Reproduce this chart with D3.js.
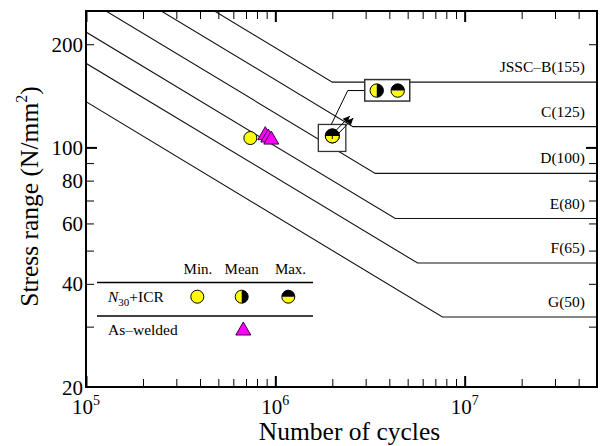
<!DOCTYPE html>
<html><head><meta charset="utf-8">
<script src="https://cdn.jsdelivr.net/npm/d3@7"></script>
<style>
body{margin:0;background:#fff}
svg{display:block}
text{font-family:"Liberation Serif","Times New Roman",Times,serif;fill:#000}
</style>
</head><body>
<svg id="chart" width="602" height="446"></svg>
<script>
// ---------- data ----------
const curveLabels = ["JSSC\u2013B(155)", "C(125)", "D(100)", "E(80)", "F(65)", "G(50)"];
const startCycles = [1e5, 1e5, 1e5, 1e5, 1e5, 1e5];
const startStress = [421, 339, 271, 217, 176, 136];
const kneeCycles  = [2.0e6, 2.57e6, 3.37e6, 4.30e6, 5.64e6, 7.63e6];
const kneeStress  = [155, 115, 84, 62, 46, 32];
const endCycles   = [5e7, 5e7, 5e7, 5e7, 5e7, 5e7];

const minCycles = [7.38e5];          // N30+ICR, Min.
const minStress = [106.5];
const asWeldedCycles = [8.85e5, 9.18e5, 9.52e5];
const asWeldedStress = [109.3, 107.6, 106.1];
const runoutCycles = [2.0e6];        // N30+ICR, Mean & Max. (run-out)
const runoutStress = [108];
const insetCycles = [3.9e6];         // magnified inset anchor
const insetStress = [146.5];

const xMajorTicks = [1e5, 1e6, 1e7];
const xMinorTicks = [2e5,3e5,4e5,5e5,6e5,7e5,8e5,9e5,2e6,3e6,4e6,5e6,6e6,7e6,8e6,9e6,2e7,3e7,4e7];
const xTickLabels = [["10","5"],["10","6"],["10","7"]];
const yMajorTicks = [100];
const yMinorTicks = [20,30,40,50,60,70,80,90,200];
const yTickLabels = [20,40,60,80,100,200];

const legendHeaders = ["Min.", "Mean", "Max."];

// ---------- layout ----------
const svg = d3.select("#chart");
const L = 86, T = 11, R = 597, B = 387;
const x = d3.scaleLog().domain([1e5, 5e7]).range([L, R]);
const y = d3.scaleLog().domain([20, 250]).range([B, T]);
const YEL = "#ffff00", MAG = "#ff00ff";

svg.append("defs").append("clipPath").attr("id","clip")
  .append("rect").attr("x",L).attr("y",T).attr("width",R-L).attr("height",B-T);

// ---------- S-N curves ----------
const line = d3.line().x(d=>x(d[0])).y(d=>y(d[1]));
const gCurves = svg.append("g").attr("clip-path","url(#clip)");
curveLabels.forEach((lab,i)=>{
  gCurves.append("path")
    .attr("d", line([[startCycles[i],startStress[i]],[kneeCycles[i],kneeStress[i]],[endCycles[i],kneeStress[i]]]))
    .attr("fill","none").attr("stroke","#111").attr("stroke-width",1.1);
  svg.append("text").attr("x",585).attr("y",y(kneeStress[i])-10)
    .attr("text-anchor","end").attr("font-size",15.5).text(lab);
});

// ---------- axes ticks ----------
function styleTicks(g, w){
  g.select(".domain").remove();
  g.selectAll(".tick line").attr("stroke","#000").attr("stroke-width",w);
  g.selectAll(".tick text").remove();
}
const axes = [
  [d3.axisLeft(y),   `translate(${L},0)`, yMinorTicks, yMajorTicks],
  [d3.axisRight(y),  `translate(${R},0)`, yMinorTicks, yMajorTicks],
  [d3.axisBottom(x), `translate(0,${B})`, xMinorTicks, xMajorTicks],
  [d3.axisTop(x),    `translate(0,${T})`, xMinorTicks, xMajorTicks]
];
axes.forEach(([ax, tr, minor, major])=>{
  svg.append("g").attr("transform",tr)
    .call(ax.tickValues(minor).tickSizeInner(-8).tickSizeOuter(0).tickFormat(""))
    .call(g=>styleTicks(g,1));
  svg.append("g").attr("transform",tr)
    .call(ax.tickValues(major).tickSizeInner(-11).tickSizeOuter(0).tickFormat(""))
    .call(g=>styleTicks(g,2));
});

// frame
svg.append("rect").attr("x",L).attr("y",T).attr("width",R-L).attr("height",B-T)
  .attr("fill","none").attr("stroke","#000").attr("stroke-width",2);

// tick labels
yTickLabels.forEach(v=>{
  svg.append("text").attr("x",L-3).attr("y",y(v)+7.5)
    .attr("text-anchor","end").attr("font-size",21).text(v);
});
xMajorTicks.forEach((v,i)=>{
  const t = svg.append("text").attr("x",x(v)).attr("y",414)
    .attr("text-anchor","middle").attr("font-size",21);
  t.append("tspan").text(xTickLabels[i][0]);
  t.append("tspan").attr("font-size",14).attr("dy",-9).text(xTickLabels[i][1]);
});

// axis titles
svg.append("text").attr("x",349.5).attr("y",439.5).attr("text-anchor","middle")
  .attr("font-size",25.5).text("Number of cycles");
const yt = svg.append("text").attr("transform","translate(37.5,196.5) rotate(-90)")
  .attr("text-anchor","middle").attr("font-size",25.5);
yt.append("tspan").text("Stress range (N/mm");
yt.append("tspan").attr("font-size",16).attr("dy",-11).text("2");
yt.append("tspan").attr("dy",11).text(")");

// ---------- markers ----------
const arc = d3.arc().innerRadius(0);
function halfCircle(g, cx, cy, r, kind){
  const gg = g.append("g").attr("transform",`translate(${cx},${cy})`);
  let blackA, yelA;
  if(kind==="mean"){ blackA=[0,Math.PI]; yelA=[Math.PI,2*Math.PI]; }
  else { blackA=[-Math.PI/2,Math.PI/2]; yelA=[Math.PI/2,3*Math.PI/2]; }
  gg.append("path").attr("d",arc.outerRadius(r).startAngle(yelA[0]).endAngle(yelA[1])()).attr("fill",YEL);
  gg.append("path").attr("d",arc.outerRadius(r).startAngle(blackA[0]).endAngle(blackA[1])()).attr("fill","#000");
  gg.append("circle").attr("r",r).attr("fill","none").attr("stroke","#000").attr("stroke-width",1);
  return gg;
}
function fullCircle(g, cx, cy, r){
  g.append("circle").attr("cx",cx).attr("cy",cy).attr("r",r)
    .attr("fill",YEL).attr("stroke","#000").attr("stroke-width",1);
}
const triPath = "M0,-7.5L7.5,5.5L-7.5,5.5Z";
function tri(g, cx, cy){
  g.append("path").attr("d",triPath).attr("transform",`translate(${cx},${cy})`)
    .attr("fill",MAG).attr("stroke","#400040").attr("stroke-width",1);
}

const gm = svg.append("g");
// min
minCycles.forEach((n,i)=>fullCircle(gm, x(n), y(minStress[i]), 6.5));
// as-welded
asWeldedCycles.forEach((n,i)=>tri(gm, x(n), y(asWeldedStress[i])));

// run-out point with box, arrows
runoutCycles.forEach((n,i)=>{
  const cx = x(n), cy = y(runoutStress[i]);
  gm.append("rect").attr("x",cx-14).attr("y",cy-11.5).attr("width",27.5).attr("height",27)
    .attr("fill","#fff").attr("stroke","#333").attr("stroke-width",1.3);
  // arrows
  [[-1.5,0],[2,2]].forEach(([dx,dy])=>{
    const x0=cx+dx, y0=cy+dy, x1=x0+19, y1=y0-20;
    gm.append("line").attr("x1",x0).attr("y1",y0).attr("x2",x1).attr("y2",y1)
      .attr("stroke","#000").attr("stroke-width",1);
    const ang = Math.atan2(y1-y0,x1-x0);
    const hl=7, hw=3.2;
    const bx = x1 - hl*Math.cos(ang), by = y1 - hl*Math.sin(ang);
    gm.append("path").attr("d",`M${x1},${y1}L${bx - hw*Math.sin(ang)},${by + hw*Math.cos(ang)}L${bx + hw*Math.sin(ang)},${by - hw*Math.cos(ang)}Z`)
      .attr("fill","#000");
  });
  halfCircle(gm, cx, cy, 7, "mean");
  halfCircle(gm, cx, cy, 7, "max");
  gm.append("line").attr("x1",cx).attr("y1",cy).attr("x2",cx).attr("y2",cy+3)
    .attr("stroke","#000").attr("stroke-width",1);

  // inset
  const ix = x(insetCycles[i]), iy = y(insetStress[i]);
  gm.append("path").attr("d",`M${ix-22.5},${iy}L${ix-39.5},${iy}L${cx-1},${cy-11.5}`)
    .attr("fill","none").attr("stroke","#000").attr("stroke-width",1);
  gm.append("rect").attr("x",ix-22.5).attr("y",iy-11).attr("width",45).attr("height",21.5)
    .attr("fill","#fff").attr("stroke","#333").attr("stroke-width",1.5);
  halfCircle(gm, ix-10.5, iy, 6.7, "mean");
  halfCircle(gm, ix+10.5, iy, 6.7, "max");
});

// ---------- legend ----------
const lg = svg.append("g");
lg.append("line").attr("x1",97).attr("x2",313).attr("y1",282.5).attr("y2",282.5).attr("stroke","#000").attr("stroke-width",1.3);
lg.append("line").attr("x1",97).attr("x2",313).attr("y1",316).attr("y2",316).attr("stroke","#000").attr("stroke-width",1.3);
const colX = [198, 241.7, 290.5];
legendHeaders.forEach((h,i)=>{
  lg.append("text").attr("x",colX[i]).attr("y",274).attr("text-anchor","middle").attr("font-size",15).text(h);
});
const n30 = lg.append("text").attr("x",108).attr("y",302).attr("font-size",15.5);
n30.append("tspan").attr("font-style","italic").text("N");
n30.append("tspan").attr("font-size",11).attr("dy",4).text("30");
n30.append("tspan").attr("dy",-4).text("+ICR");
fullCircle(lg, 197.3, 296.7, 6.5);
halfCircle(lg, 241.7, 296.7, 6.5, "mean");
halfCircle(lg, 288.3, 296.7, 6.5, "max");
lg.append("text").attr("x",108).attr("y",335).attr("font-size",15.5).text("As\u2013welded");
tri(lg, 243.3, 329.5);
</script>
</body></html>
